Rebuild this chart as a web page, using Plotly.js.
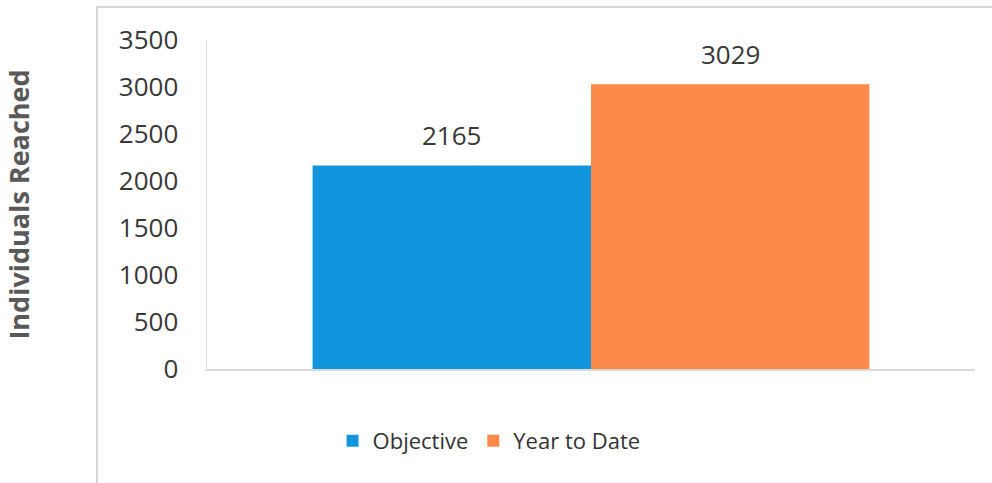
<!DOCTYPE html>
<html>
<head>
<meta charset="utf-8">
<script src="https://cdn.plot.ly/plotly-3.0.1.min.js"></script>
<style>html,body{margin:0;padding:0;background:#fff;}#chart{width:992px;height:483px;}</style>
</head>
<body>
<div id="chart"></div>
<script>
const categories = [""];
const seriesNames = ["Objective", "Year to Date"];
const objectiveValues = [2165];
const yearToDateValues = [3029];
const seriesColors = ["#1196dd", "#fb8a4b"];
const yTickValues = [0, 500, 1000, 1500, 2000, 2500, 3000, 3500];

const fontFam = "'Open Sans', 'Liberation Sans', sans-serif";
const seriesValues = [objectiveValues, yearToDateValues];
const bargap = 0.275;
const barW = (1 - bargap) / seriesValues.length;

const traces = seriesValues.map((vals, i) => ({
  type: "bar",
  name: seriesNames[i],
  x: categories,
  y: vals,
  marker: {color: seriesColors[i]},
  hoverinfo: "none"
}));

// value labels placed above each bar through the axes' own scales
const annotations = [];
seriesValues.forEach((vals, i) => {
  vals.forEach((v, j) => {
    annotations.push({
      xref: "x", yref: "y",
      x: j - (1 - bargap) / 2 + barW * (i + 0.5),
      y: v, yshift: 30, yanchor: "middle", xanchor: "center",
      text: String(v), showarrow: false,
      font: {family: fontFam, size: 26, color: "#383838"}
    });
  });
});

const layout = {
  width: 992, height: 483,
  margin: {l: 207, r: 17, t: 40, b: 114},
  paper_bgcolor: "#ffffff",
  plot_bgcolor: "#ffffff",
  barmode: "group",
  bargap: bargap,
  bargroupgap: 0,
  showlegend: true,
  legend: {
    orientation: "h", x: 0.493, xanchor: "center", xref: "container",
    y: 42/483, yref: "container", yanchor: "middle",
    font: {family: fontFam, size: 22, color: "#333333"},
    itemwidth: 30, traceorder: "normal"
  },
  annotations: annotations,
  xaxis: {
    showticklabels: false, showgrid: false, zeroline: false,
    showline: true, linecolor: "#d9d9d9", linewidth: 1.5, ticks: ""
  },
  yaxis: {
    range: [0, 3500], tickvals: yTickValues, showgrid: false, zeroline: false,
    showline: true, linecolor: "#d9d9d9", linewidth: 1.5, ticks: "",
    ticklabelstandoff: 22,
    tickfont: {family: fontFam, size: 26, color: "#383838"},
    title: {text: "Individuals Reached", standoff: 81,
            font: {family: fontFam, size: 27, color: "#595959", weight: "bold"}}
  },
  shapes: [
    {type: "line", xref: "paper", yref: "paper", x0: -110/768, x1: 785/768, y0: 362/329, y1: 362/329,
     line: {color: "#c8c8c8", width: 1.5}},
    {type: "line", xref: "paper", yref: "paper", x0: -110/768, x1: -110/768, y0: 362/329, y1: -114/329,
     line: {color: "#c8c8c8", width: 1.5}}
  ]
};

Plotly.newPlot("chart", traces, layout, {displayModeBar: false, staticPlot: true});
</script>
</body>
</html>
